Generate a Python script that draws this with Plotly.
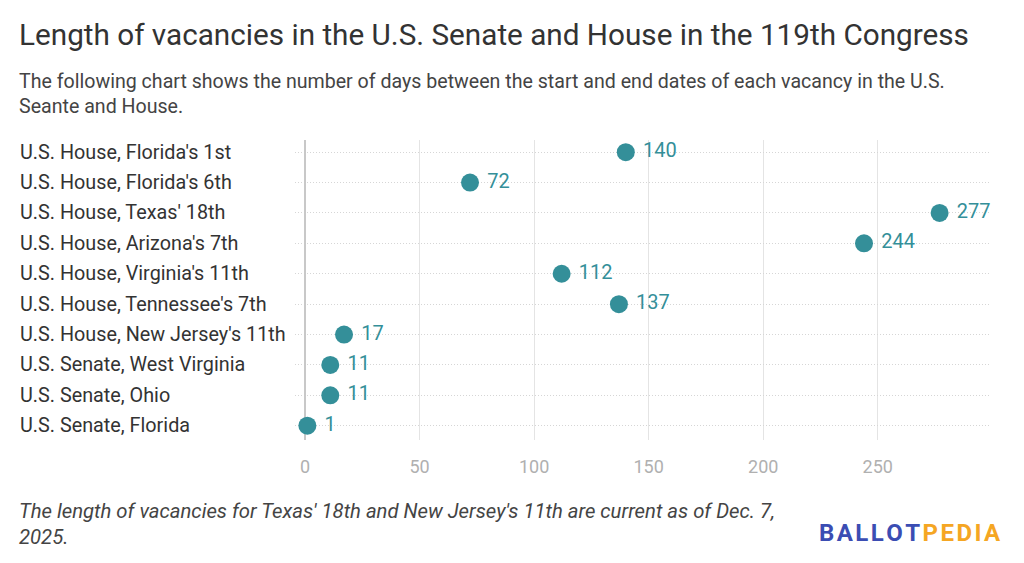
import plotly.graph_objects as go

categories = [
    "U.S. House, Florida's 1st",
    "U.S. House, Florida's 6th",
    "U.S. House, Texas' 18th",
    "U.S. House, Arizona's 7th",
    "U.S. House, Virginia's 11th",
    "U.S. House, Tennessee's 7th",
    "U.S. House, New Jersey's 11th",
    "U.S. Senate, West Virginia",
    "U.S. Senate, Ohio",
    "U.S. Senate, Florida",
]
days = [140, 72, 277, 244, 112, 137, 17, 11, 11, 1]
x_ticks = [0, 50, 100, 150, 200, 250]

TEAL = "#348f99"
FONT = "Roboto"

# page offset (browser body margin)
OFF = 8
W, H = 1024, 563
L, R, T, B = 295 - OFF, 34 + OFF, 140 - OFF, 123 + OFF
PW, PH = W - L - R, H - T - B

fig = go.Figure()
fig.add_trace(go.Scatter(
    x=days,
    y=categories,
    mode="markers+text",
    marker=dict(size=18, color=TEAL),
    text=[str(v) for v in days],
    texttemplate=" %{text}",
    textposition="middle right",
    textfont=dict(family=FONT, size=20, color=TEAL),
    cliponaxis=False,
    hoverinfo="skip",
    showlegend=False,
))

# left-aligned category labels
for c in categories:
    fig.add_annotation(
        x=(18 - OFF - L) / PW, xref="paper", y=c, yref="y",
        text=c, showarrow=False, xanchor="left", yanchor="middle",
        font=dict(family=FONT, size=19.8, color="#333333"),
    )

fig.update_layout(
    width=W, height=H,
    margin=dict(l=L, r=R, t=T, b=B),
    paper_bgcolor="white", plot_bgcolor="white",
    font=dict(family=FONT),
    xaxis=dict(
        range=[-4.4, 299], tickvals=x_ticks, ticktext=[str(t) for t in x_ticks],
        showgrid=True, gridcolor="#e4e4e4", gridwidth=1,
        zeroline=True, zerolinecolor="#c8c8c8", zerolinewidth=2,
        showline=False, ticks="", ticklabelstandoff=14,
        tickfont=dict(family=FONT, size=18, color="#b0b0b0"),
    ),
    yaxis=dict(
        categoryorder="array", categoryarray=categories,
        range=[9.47, -0.4], showticklabels=False,
        showgrid=True, gridcolor="#d6d6d6", griddash="1px,2px", gridwidth=1,
        zeroline=False, showline=False, ticks="",
    ),
)


def top_text(text, x_px, y_px, size, color, italic=False, anchor="left", weight="normal"):
    fig.add_annotation(
        x=(x_px - OFF - L) / PW, xref="paper",
        y=(H - B - (y_px - OFF)) / PH, yref="paper",
        text=text, showarrow=False, xanchor=anchor, yanchor="middle", align="left",
        font=dict(family=FONT, size=size, color=color, weight=weight,
                  style="italic" if italic else "normal"),
    )


top_text("Length of vacancies in the U.S. Senate and House in the 119th Congress",
         17, 35, 29.7, "#333333")
top_text("The following chart shows the number of days between the start and end dates of each vacancy in the U.S.<br>Seante and House.",
         17, 94, 19.6, "#444444")
top_text("The length of vacancies for Texas' 18th and New Jersey's 11th are current as of Dec. 7,<br>2025.",
         17, 524, 20.3, "#444444", italic=True)
sp = "\u200a"
top_text('<span style="color:#3b4db3">' + sp.join("BALLOT") + '</span>' + sp +
         '<span style="color:#f5a623">' + sp.join("PEDIA") + '</span>',
         1003, 533, 24, "#3b4db3", anchor="right", weight="bold")

fig.write_html("out.html")
